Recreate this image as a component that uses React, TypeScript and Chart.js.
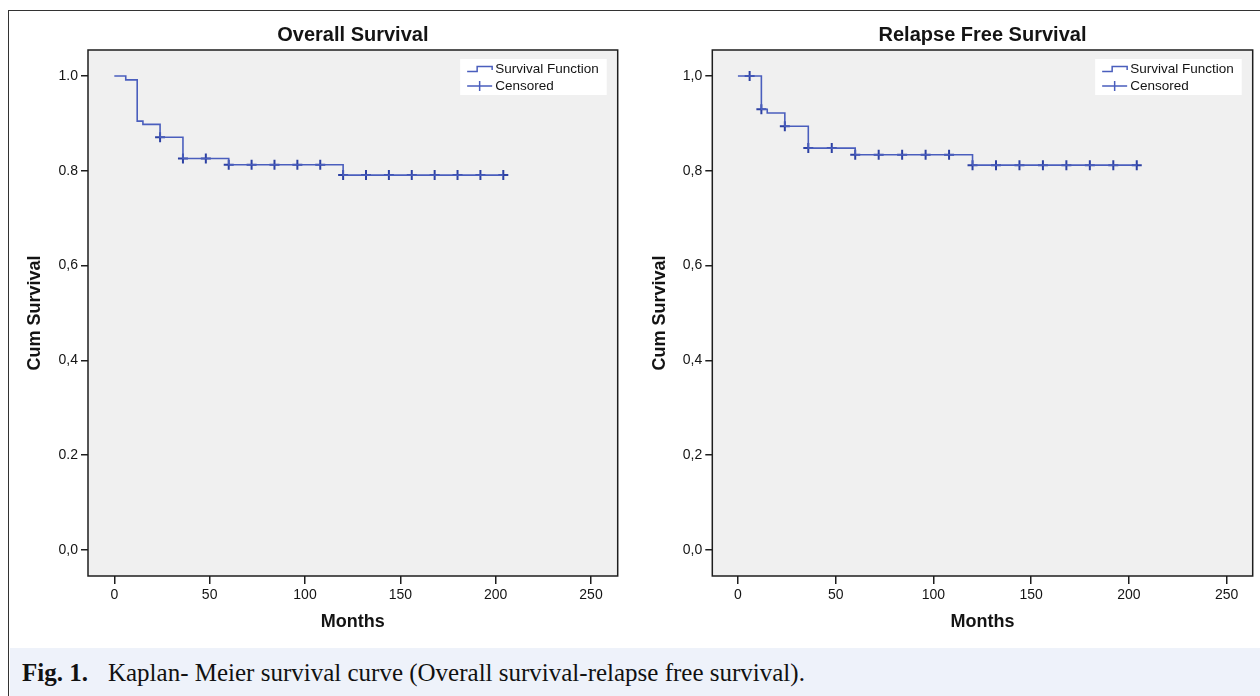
import React, { useEffect, useRef } from 'react';
import { Chart, registerables } from 'chart.js';

Chart.register(...registerables);

// ---- data ----
const monthTicks = [0, 50, 100, 150, 200, 250];
const survivalTicks = [0, 0.2, 0.4, 0.6, 0.8, 1.0];
const osSurvivalTickLabels = ['0,0', '0.2', '0,4', '0,6', '0.8', '1.0'];
const rfsSurvivalTickLabels = ['0,0', '0,2', '0,4', '0,6', '0,8', '1,0'];

const osStepMonths = [0, 6, 12, 15, 24, 36, 60, 120, 204];
const osStepSurvival = [1.0, 0.992, 0.905, 0.898, 0.871, 0.826, 0.813, 0.791, 0.791];
const osCensorMonths = [24, 36, 48, 60, 72, 84, 96, 108, 120, 132, 144, 156, 168, 180, 192, 204];
const osCensorSurvival = [0.871, 0.826, 0.826, 0.813, 0.813, 0.813, 0.813, 0.813, 0.791, 0.791, 0.791, 0.791, 0.791, 0.791, 0.791, 0.791];

const rfsStepMonths = [0, 12, 15, 24, 36, 60, 120, 204];
const rfsStepSurvival = [1.0, 0.93, 0.922, 0.894, 0.848, 0.834, 0.812, 0.812];
const rfsCensorMonths = [6, 12, 24, 36, 48, 60, 72, 84, 96, 108, 120, 132, 144, 156, 168, 180, 192, 204];
const rfsCensorSurvival = [1.0, 0.93, 0.894, 0.848, 0.848, 0.834, 0.834, 0.834, 0.834, 0.834, 0.812, 0.812, 0.812, 0.812, 0.812, 0.812, 0.812, 0.812];

const legendLabels = ['Survival Function', 'Censored'];

const SANS = '"Liberation Sans", Arial, sans-serif';
const LINE_COLOR = '#4a5ebd';
const CENSOR_COLOR = '#2c40a3';
const TEXT = '#141414';

type Panel = {
  title: string;
  stepMonths: number[];
  stepSurvival: number[];
  censorMonths: number[];
  censorSurvival: number[];
  yLabels: string[];
  xMin: number;
  xMax: number;
  yAxisWidth: number;
  yTitlePad: number;
  padRight: number;
};

const decorPlugin = {
  id: 'kmDecor',
  beforeDraw(chart: any) {
    const { ctx, chartArea: a } = chart;
    ctx.save();
    ctx.fillStyle = '#f0f0f0';
    ctx.fillRect(a.left, a.top, a.right - a.left, a.bottom - a.top);
    ctx.restore();
  },
  afterDraw(chart: any) {
    const { ctx, chartArea: a } = chart;
    ctx.save();
    // frame
    ctx.strokeStyle = '#1e1e1e';
    ctx.lineWidth = 1.5;
    ctx.strokeRect(a.left, a.top, a.right - a.left, a.bottom - a.top);
    // legend
    ctx.font = `13.5px ${SANS}`;
    const tw = Math.max(...legendLabels.map((t) => ctx.measureText(t).width));
    const boxW = 7 + 25 + 3 + tw + 8;
    const boxR = a.right - 11;
    const boxL = boxR - boxW;
    const boxT = a.top + 9;
    const boxH = 36;
    ctx.fillStyle = '#ffffff';
    ctx.fillRect(boxL, boxT, boxW, boxH);
    const sx = boxL + 7;
    const y1 = boxT + 10;
    const y2 = boxT + 27;
    ctx.strokeStyle = LINE_COLOR;
    ctx.lineWidth = 1.5;
    ctx.beginPath();
    ctx.moveTo(sx, y1 + 2.5);
    ctx.lineTo(sx + 10, y1 + 2.5);
    ctx.lineTo(sx + 10, y1 - 2.5);
    ctx.lineTo(sx + 25, y1 - 2.5);
    ctx.lineTo(sx + 25, y1 + 1);
    ctx.stroke();
    ctx.beginPath();
    ctx.moveTo(sx, y2);
    ctx.lineTo(sx + 25, y2);
    ctx.moveTo(sx + 12.5, y2 - 5);
    ctx.lineTo(sx + 12.5, y2 + 5);
    ctx.stroke();
    ctx.fillStyle = TEXT;
    ctx.textBaseline = 'middle';
    ctx.textAlign = 'left';
    ctx.fillText(legendLabels[0], sx + 28, y1);
    ctx.fillText(legendLabels[1], sx + 28, y2);
    ctx.restore();
  },
};

function buildConfig(p: Panel): any {
  const findLabel = (v: number) => {
    const i = survivalTicks.findIndex((t) => Math.abs(t - v) < 1e-6);
    return i >= 0 ? p.yLabels[i] : '';
  };
  return {
    type: 'line',
    data: {
      datasets: [
        {
          label: legendLabels[0],
          data: p.stepMonths.map((m, i) => ({ x: m, y: p.stepSurvival[i] })),
          stepped: 'before',
          borderColor: LINE_COLOR,
          borderWidth: 1.6,
          pointRadius: 0,
          fill: false,
        },
        {
          label: legendLabels[1],
          data: p.censorMonths.map((m, i) => ({ x: m, y: p.censorSurvival[i] })),
          showLine: false,
          pointStyle: 'cross',
          pointRadius: 5,
          pointBorderWidth: 2,
          pointBorderColor: CENSOR_COLOR,
          borderColor: CENSOR_COLOR,
        },
      ],
    },
    options: {
      animation: false,
      responsive: false,
      layout: { padding: { left: 0, right: p.padRight, top: 0, bottom: 0 } },
      plugins: {
        legend: { display: false },
        tooltip: { enabled: false },
        title: {
          display: true,
          text: p.title,
          fullSize: false,
          color: TEXT,
          font: { family: SANS, size: 20, weight: 'bold' },
          padding: { top: 23, bottom: 3 },
        },
      },
      scales: {
        x: {
          type: 'linear',
          min: p.xMin,
          max: p.xMax,
          afterBuildTicks: (s: any) => {
            s.ticks = monthTicks.map((v) => ({ value: v }));
          },
          afterFit: (s: any) => {
            s.height = 69;
          },
          border: { display: false },
          grid: {
            display: true,
            drawOnChartArea: false,
            drawTicks: true,
            tickLength: 8,
            color: '#1e1e1e',
            lineWidth: 1.5,
          },
          ticks: {
            color: TEXT,
            padding: 3,
            maxRotation: 0,
            font: { family: SANS, size: 14 },
            callback: (v: number) => String(v),
          },
          title: {
            display: true,
            text: 'Months',
            color: TEXT,
            font: { family: SANS, size: 18, weight: 'bold' },
            padding: { top: 0, bottom: 12 },
          },
        },
        y: {
          type: 'linear',
          min: -0.055,
          max: 1.055,
          afterBuildTicks: (s: any) => {
            s.ticks = survivalTicks.map((v) => ({ value: v }));
          },
          afterFit: (s: any) => {
            s.width = p.yAxisWidth;
          },
          border: { display: false },
          grid: {
            display: true,
            drawOnChartArea: false,
            drawTicks: true,
            tickLength: 7,
            color: '#1e1e1e',
            lineWidth: 1.5,
          },
          ticks: {
            color: TEXT,
            padding: 3,
            font: { family: SANS, size: 14 },
            callback: (v: number) => findLabel(v),
          },
          title: {
            display: true,
            text: 'Cum Survival',
            color: TEXT,
            font: { family: SANS, size: 18, weight: 'bold' },
            padding: { top: p.yTitlePad, bottom: 0 },
          },
        },
      },
    },
    plugins: [decorPlugin],
  };
}

function KMChart({ panel, left }: { panel: Panel; left: number }) {
  const ref = useRef<HTMLCanvasElement | null>(null);
  useEffect(() => {
    if (!ref.current) return;
    const chart = new Chart(ref.current, buildConfig(panel));
    return () => chart.destroy();
  }, [panel]);
  return (
    <canvas
      ref={ref}
      width={630}
      height={645}
      style={{ position: 'absolute', left, top: 0, width: 630, height: 645 }}
    />
  );
}

const osPanel: Panel = {
  title: 'Overall Survival',
  stepMonths: osStepMonths,
  stepSurvival: osStepSurvival,
  censorMonths: osCensorMonths,
  censorSurvival: osCensorSurvival,
  yLabels: osSurvivalTickLabels,
  xMin: -13.8,
  xMax: 264,
  yAxisWidth: 88,
  yTitlePad: 24,
  padRight: 12.3,
};

const rfsPanel: Panel = {
  title: 'Relapse Free Survival',
  stepMonths: rfsStepMonths,
  stepSurvival: rfsStepSurvival,
  censorMonths: rfsCensorMonths,
  censorSurvival: rfsCensorSurvival,
  yLabels: rfsSurvivalTickLabels,
  xMin: -13.1,
  xMax: 263.3,
  yAxisWidth: 82.3,
  yTitlePad: 19,
  padRight: 7.3,
};

export default function App() {
  return (
    <div
      style={{
        position: 'fixed',
        left: 0,
        top: 0,
        width: 1260,
        height: 696,
        background: '#ffffff',
        overflow: 'hidden',
      }}
    >
      <div
        style={{
          position: 'absolute',
          left: 8,
          top: 10,
          width: 1270,
          height: 700,
          borderLeft: '1.5px solid #333',
          borderTop: '1.5px solid #333',
        }}
      />
      <div
        style={{
          position: 'absolute',
          left: 9.5,
          top: 648,
          width: 1260,
          height: 48,
          background: '#eef2fa',
        }}
      />
      <div
        style={{
          position: 'absolute',
          left: 22,
          top: 649,
          height: 48,
          lineHeight: '48px',
          fontFamily: '"Liberation Serif", "Times New Roman", serif',
          fontSize: 25,
          color: '#111',
          whiteSpace: 'nowrap',
        }}
      >
        <b>Fig. 1.</b>
        <span style={{ marginLeft: 20 }}>
          Kaplan- Meier survival curve (Overall survival-relapse free survival).
        </span>
      </div>
      <KMChart panel={osPanel} left={0} />
      <KMChart panel={rfsPanel} left={630} />
    </div>
  );
}
